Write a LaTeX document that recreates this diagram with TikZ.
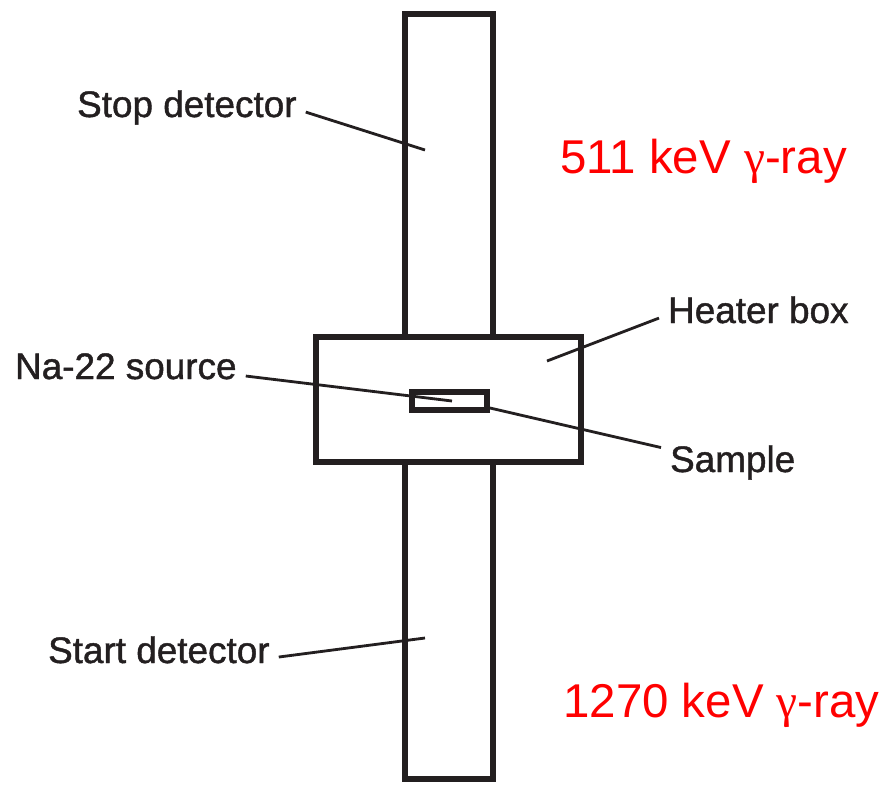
\documentclass[tikz,border=0pt]{standalone}
\usepackage{fontspec}
\setmainfont{Liberation Sans}
\newfontfamily\labelfont[FakeBold=1.2]{Liberation Sans}
\newfontfamily\greekfont{Liberation Serif}
\usetikzlibrary{positioning,calc}
\definecolor{InkBlack}{RGB}{35,31,32}
\definecolor{RayRed}{RGB}{255,0,0}
\tikzset{
  wall/.style={draw=InkBlack,line width=3.4pt},
  lead/.style={draw=InkBlack,line width=1.6pt},
  lbl/.style={text=InkBlack,font=\labelfont\fontsize{21}{25}\selectfont,inner xsep=5pt,inner ysep=0pt},
  ray/.style={text=RayRed,font=\fontsize{27}{32}\selectfont,inner sep=0pt},
}
\begin{document}
\begin{tikzpicture}[x=0.02cm,y=-0.02cm]
\useasboundingbox (0,0) rectangle (880,785);
% detectors
\draw[wall] (405,14) rectangle (493,337);
\draw[wall] (405,462) rectangle (493,779);
% heater box with the sample
\draw[wall,fill=white] (316,337) rectangle (581,462);
\draw[wall] (412,392) rectangle (487,410);
% points the labels point at
\coordinate (stoptip) at (425,150);
\coordinate (starttip) at (425,638);
\coordinate (heatertip) at (547,361);
\coordinate (sourcetip) at (452,401);
\coordinate (sampletip) at (490,408);
% labels
\node[lbl,anchor=base west] (stoplbl) at (68,117) {Stop detector};
\node[lbl,anchor=base west] (startlbl) at (39,663) {Start detector};
\node[lbl,anchor=base west] (sourcelbl) at (6,379) {Na-22 source};
\node[lbl,anchor=base west] (heaterlbl) at (659,323) {Heater box};
\node[lbl,anchor=base west] (samplelbl) at (661,472) {Sample};
\draw[lead] ([yshift=2.8pt]stoplbl.base east) -- (stoptip);
\draw[lead] ([yshift=3.4pt]startlbl.base east) -- (starttip);
\draw[lead] ([yshift=1.7pt]sourcelbl.base east) -- (sourcetip);
\draw[lead] ([yshift=2.8pt]heaterlbl.base west) -- (heatertip);
\draw[lead] ([yshift=-1.5pt]samplelbl.north west) -- (sampletip);
% gamma rays
\node[ray,anchor=base west] (stopray) at (560,173) {511 keV {\greekfont γ}-ray};
\node[ray,anchor=base west] (startray) at (563,717) {1270 keV {\greekfont γ}-ray};
\end{tikzpicture}
\end{document}
